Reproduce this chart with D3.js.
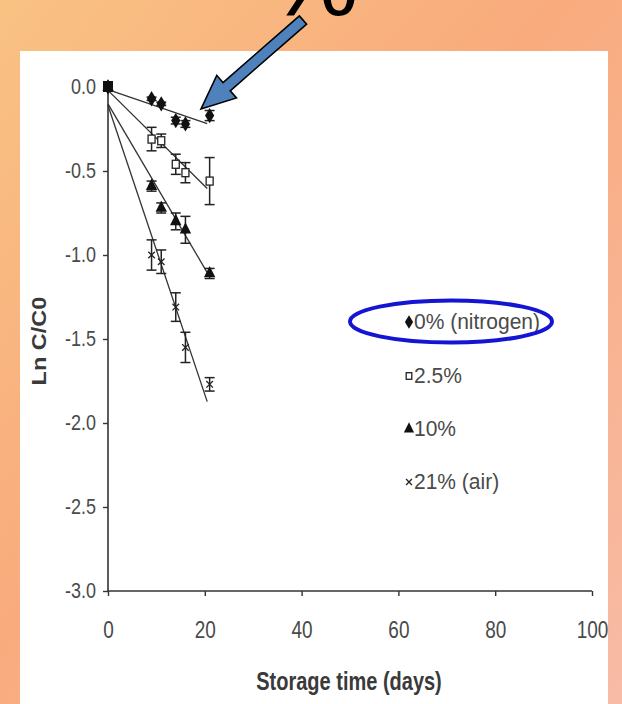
<!DOCTYPE html>
<html>
<head>
<meta charset="utf-8">
<script src="https://cdn.jsdelivr.net/npm/d3@7"></script>
<style>
  html, body { margin: 0; padding: 0; }
  svg { display: block; }
</style>
</head>
<body>
<svg id="chart" width="622" height="704"></svg>
<script>
// Storage time in days at which each treatment was sampled
const days = [0, 9, 11, 14, 16, 21];

// Ln C/C0 per oxygen level
const nitrogen = [0, -0.07, -0.10, -0.20, -0.22, -0.17];
const oxygen25 = [0, -0.31, -0.32, -0.46, -0.51, -0.56];
const oxygen10 = [0, -0.59, -0.72, -0.80, -0.85, -1.11];
const air21    = [0, -1.00, -1.04, -1.31, -1.55, -1.77];

// Standard deviations
const errNitrogen = [0, 0.01, 0.01, 0.02, 0.02, 0.03];
const errOxygen25 = [0, 0.07, 0.04, 0.06, 0.06, 0.14];
const errOxygen10 = [0, 0.03, 0.03, 0.05, 0.08, 0.03];
const errAir21    = [0, 0.09, 0.07, 0.085, 0.09, 0.04];

// Linear fits (intercept, slope per day)
const fitIntercept = [-0.015, -0.02, -0.10, -0.11];
const fitSlope     = [-0.0099, -0.0285, -0.049, -0.086];
const fitEnd = 20.5;

const seriesNames = ["0% (nitrogen)", "2.5%", "10%", "21% (air)"];
const xTicks = [0, 20, 40, 60, 80, 100];
const yTicks = [0, -0.5, -1.0, -1.5, -2.0, -2.5, -3.0];

const series = [
  { name: seriesNames[0], values: nitrogen, err: errNitrogen, sym: "diamond" },
  { name: seriesNames[1], values: oxygen25, err: errOxygen25, sym: "square" },
  { name: seriesNames[2], values: oxygen10, err: errOxygen10, sym: "triangle" },
  { name: seriesNames[3], values: air21,    err: errAir21,    sym: "times" }
];

const svg = d3.select("#chart");
const W = 622, H = 704;

// Warm slide background
const defs = svg.append("defs");
const grad = defs.append("linearGradient")
  .attr("id", "bg").attr("x1", "0").attr("y1", "0").attr("x2", "1").attr("y2", "1");
grad.append("stop").attr("offset", "0").attr("stop-color", "#f9c283");
grad.append("stop").attr("offset", "0.45").attr("stop-color", "#f9ab7d");
grad.append("stop").attr("offset", "1").attr("stop-color", "#f8bba6");
svg.append("rect").attr("width", W).attr("height", H).attr("fill", "url(#bg)");

// Big heading glyph running off the top of the slide
svg.append("text")
  .attr("x", 313).attr("y", 15)
  .attr("text-anchor", "middle")
  .attr("font-family", "Liberation Sans, Arial, sans-serif")
  .attr("font-size", 102)
  .attr("fill", "#000")
  .text("%");

// White plot panel
svg.append("rect")
  .attr("x", 20).attr("y", 51).attr("width", 588).attr("height", H - 51)
  .attr("fill", "#fff");

const x = d3.scaleLinear().domain([0, 100]).range([108, 592]);
const y = d3.scaleLinear().domain([-3, 0]).range([591, 87]);

const axisColor = "#333";
const labelColor = "#4a4a4a";
const font = "Liberation Sans, Arial, sans-serif";

// Y axis
const yAxis = svg.append("g").attr("transform", `translate(${x(0)},0)`)
  .call(d3.axisLeft(y).tickValues(yTicks).tickSize(5).tickFormat(d3.format(".1f")));
yAxis.select(".domain").attr("stroke", axisColor).attr("stroke-width", 1.6)
  .attr("d", `M0,${y(0)}V${y(-3)}`);
yAxis.selectAll(".tick line").attr("stroke", axisColor).attr("stroke-width", 1.4);
yAxis.selectAll(".tick text")
  .attr("font-family", font).attr("font-size", 18).attr("fill", labelColor)
  .attr("x", -12)
  .attr("transform", "scale(1,1.2)")
  .text(d => d3.format(".1f")(d).replace("−", "-"));

// X axis
const xAxis = svg.append("g").attr("transform", `translate(0,${y(-3)})`)
  .call(d3.axisBottom(x).tickValues(xTicks).tickSize(5).tickFormat(d3.format("d")));
xAxis.select(".domain").attr("stroke", axisColor).attr("stroke-width", 1.6)
  .attr("d", `M${x(0)},0H${x(100)}`);
xAxis.selectAll(".tick line").attr("stroke", axisColor).attr("stroke-width", 1.4);
xAxis.selectAll(".tick text")
  .attr("font-family", font).attr("font-size", 19).attr("fill", labelColor)
  .attr("y", 0).attr("dy", null)
  .attr("transform", "translate(0,47) scale(1,1.25)");

// Axis titles
svg.append("text")
  .attr("transform", "translate(349,690) scale(1,1.3)")
  .attr("text-anchor", "middle")
  .attr("font-family", font).attr("font-weight", "bold").attr("font-size", 20)
  .attr("fill", "#3a3a3a")
  .text("Storage time (days)");

svg.append("text")
  .attr("transform", "translate(46,341) rotate(-90) scale(1.12,1)")
  .attr("text-anchor", "middle")
  .attr("font-family", font).attr("font-weight", "bold").attr("font-size", 21)
  .attr("fill", "#3a3a3a")
  .text("Ln C/C0");

// Fitted regression lines
const plot = svg.append("g");
const line = d3.line().x(d => x(d[0])).y(d => y(d[1]));
series.forEach((s, i) => {
  const pts = [[0, fitIntercept[i]], [fitEnd, fitIntercept[i] + fitSlope[i] * fitEnd]];
  plot.append("path").attr("d", line(pts))
    .attr("fill", "none").attr("stroke", "#333").attr("stroke-width", 1.3);
});

// Error bars
series.forEach(s => {
  s.values.forEach((v, j) => {
    const e = s.err[j];
    if (!e) return;
    const cx = x(days[j]);
    const g = plot.append("g").attr("stroke", "#222").attr("stroke-width", 1.5);
    g.append("line").attr("x1", cx).attr("x2", cx).attr("y1", y(v + e)).attr("y2", y(v - e));
    g.append("line").attr("x1", cx - 5).attr("x2", cx + 5).attr("y1", y(v + e)).attr("y2", y(v + e));
    g.append("line").attr("x1", cx - 5).attr("x2", cx + 5).attr("y1", y(v - e)).attr("y2", y(v - e));
  });
});

// Markers
function drawMarker(g, sym, cx, cy, scale = 1) {
  if (sym === "diamond") {
    g.append("path").attr("transform", `translate(${cx},${cy}) scale(1.15,1.1)`)
      .attr("d", d3.symbol(d3.symbolDiamond, 56 * scale)()).attr("fill", "#111");
  } else if (sym === "square") {
    const s = 7 * scale;
    g.append("rect").attr("x", cx - s / 2).attr("y", cy - s / 2 - 0.5)
      .attr("width", s).attr("height", s + 1)
      .attr("fill", "#fff").attr("stroke", "#222").attr("stroke-width", 1.3);
  } else if (sym === "triangle") {
    g.append("path").attr("transform", `translate(${cx},${cy}) scale(1,1.15)`)
      .attr("d", d3.symbol(d3.symbolTriangle, 56 * scale)()).attr("fill", "#111");
  } else {
    g.append("path").attr("transform", `translate(${cx},${cy})`)
      .attr("d", d3.symbol(d3.symbolTimes, 30 * scale)())
      .attr("fill", "none").attr("stroke", "#222").attr("stroke-width", 1.3);
  }
}

// Open squares first so the filled markers sit on top at the origin
[1, 0, 2, 3].forEach(i => {
  const s = series[i];
  s.values.forEach((v, j) => drawMarker(plot, s.sym, x(days[j]), y(v)));
});
// Starting point where all treatments coincide
plot.append("rect").attr("x", x(0) - 5).attr("y", y(0) - 6).attr("width", 10).attr("height", 11)
  .attr("fill", "#111");

// Legend
const legendY = [322, 376, 429, 482];
const legend = svg.append("g");
series.forEach((s, i) => {
  drawMarker(legend, s.sym, 409, legendY[i], 0.8);
  legend.append("text")
    .attr("transform", `translate(414,${legendY[i] + 7}) scale(1,1.05)`)
    .attr("font-family", font).attr("font-size", 21).attr("fill", labelColor)
    .text(s.name);
});

// Highlight around the nitrogen entry
svg.append("ellipse")
  .attr("cx", 451).attr("cy", 321.5).attr("rx", 101).attr("ry", 21)
  .attr("fill", "none").attr("stroke", "#1414d2").attr("stroke-width", 4);

// Callout arrow pointing at the nitrogen series
(function arrow() {
  const tail = [303, 20], tip = [201, 109];
  const dx = tip[0] - tail[0], dy = tip[1] - tail[1];
  const len = Math.hypot(dx, dy);
  const ux = dx / len, uy = dy / len, nx = -uy, ny = ux;
  const shaftW = 5.5, headW = 15, headL = 34;
  const bx = tip[0] - ux * headL, by = tip[1] - uy * headL;
  const pts = [
    [tail[0] + nx * shaftW, tail[1] + ny * shaftW],
    [bx + nx * shaftW, by + ny * shaftW],
    [bx + nx * headW, by + ny * headW],
    tip,
    [bx - nx * headW, by - ny * headW],
    [bx - nx * shaftW, by - ny * shaftW],
    [tail[0] - nx * shaftW, tail[1] - ny * shaftW]
  ];
  svg.append("path").attr("d", "M" + pts.map(p => p.join(",")).join("L") + "Z")
    .attr("fill", "#4f81bd").attr("stroke", "#000").attr("stroke-width", 1.6)
    .attr("stroke-linejoin", "miter");
})();
</script>
</body>
</html>
